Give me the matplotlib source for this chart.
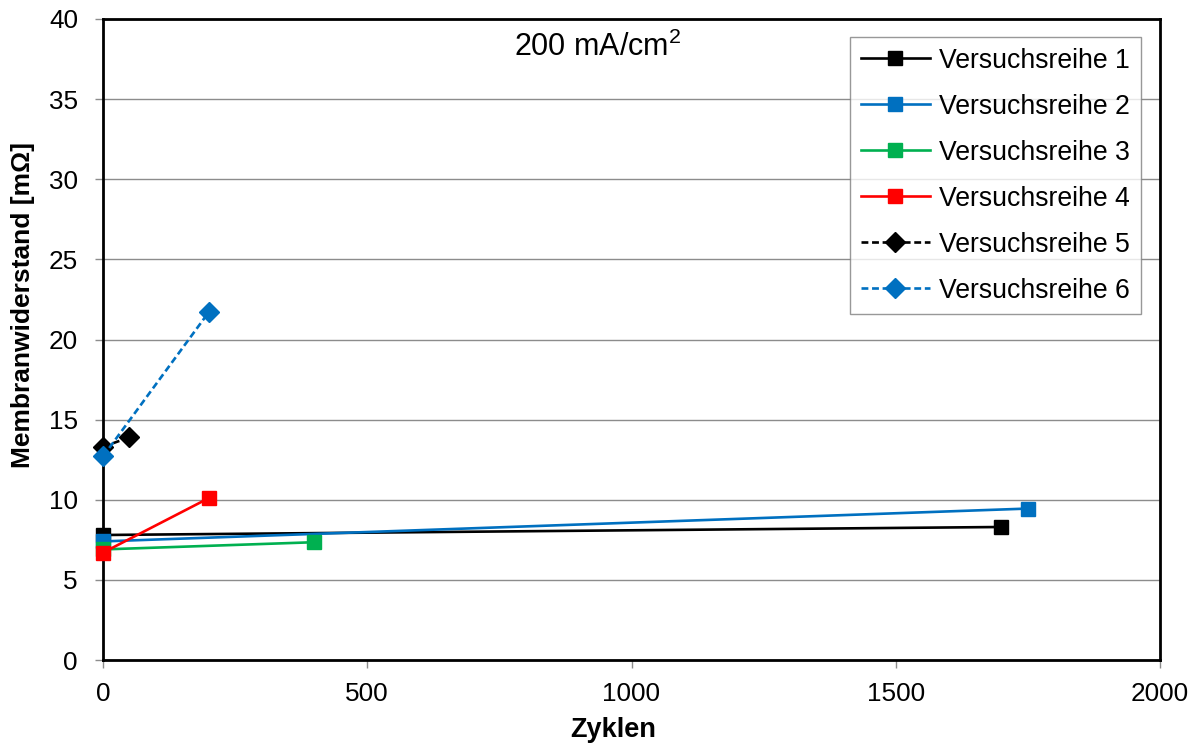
import matplotlib
matplotlib.use("Agg")
import matplotlib.pyplot as plt

plt.rcParams['font.family'] = ['Liberation Sans', 'DejaVu Sans']
plt.rcParams['mathtext.fontset'] = 'custom'
plt.rcParams['mathtext.rm'] = 'Liberation Sans'

# Data: cycles vs. membrane resistance for each test series
labels = ["Versuchsreihe 1", "Versuchsreihe 2", "Versuchsreihe 3",
          "Versuchsreihe 4", "Versuchsreihe 5", "Versuchsreihe 6"]
x1 = [0, 1700]
y1 = [7.8, 8.3]
x2 = [0, 1750]
y2 = [7.4, 9.45]
x3 = [0, 400]
y3 = [6.9, 7.35]
x4 = [0, 200]
y4 = [6.7, 10.1]
x5 = [0, 50]
y5 = [13.3, 13.9]
x6 = [0, 200]
y6 = [12.7, 21.7]

xs = [x1, x2, x3, x4, x5, x6]
ys = [y1, y2, y3, y4, y5, y6]
colors = ["#000000", "#0070C0", "#00B050", "#FF0000", "#000000", "#0070C0"]
markers = ["s", "s", "s", "s", "D", "D"]
dashed = (0, (2.6, 1.4))
styles = ["-", "-", "-", "-", dashed, dashed]

fig = plt.figure(figsize=(12.01, 7.51), dpi=100)
ax = fig.add_axes([103 / 1201, 1 - 660 / 751, (1160 - 103) / 1201, (660 - 19) / 751])

ax.set_axisbelow(True)
ax.yaxis.grid(True, color="#8c8c8c", linewidth=1.0)

for x, y, c, m, ls, lab in zip(xs, ys, colors, markers, styles, labels):
    ax.plot(x, y, color=c, linestyle=ls, linewidth=1.9, marker=m,
            markersize=10.3, markerfacecolor=c, markeredgecolor=c,
            label=lab, clip_on=False, zorder=3)

ax.set_xlim(0, 2000)
ax.set_ylim(0, 40)
ax.set_xticks(range(0, 2001, 500))
ax.set_yticks(range(0, 41, 5))

for s in ax.spines.values():
    s.set_linewidth(2.0)
    s.set_color("black")

ax.tick_params(axis="both", direction="out", length=6, width=1,
               color="#8c8c8c", labelsize=18.8)
ax.tick_params(axis="y", pad=12)
ax.tick_params(axis="x", pad=10)

ax.set_xlabel("Zyklen", fontsize=19.5, fontweight="bold")
ax.xaxis.set_label_coords((613 - 103) / 1057, -(730 - 660) / 641)
ax.set_ylabel("Membranwiderstand [mΩ]", fontsize=19, fontweight="bold")
ax.yaxis.set_label_coords(-(103 - 23) / 1057, (660 - 305) / 641)
ax.xaxis.label.set_va("center")
ax.yaxis.label.set_va("center")

ax.text(0.468, 0.956, "200 mA/cm$^{2}$", transform=ax.transAxes,
        ha="center", va="center", fontsize=22)

leg = ax.legend(loc="upper right", bbox_to_anchor=(1 - 19 / 1057, 1 - 18 / 641),
                borderaxespad=0, fontsize=19.2, frameon=True, fancybox=False,
                handlelength=2.6, handletextpad=0.35, labelspacing=0.75,
                borderpad=0.4)
leg.get_frame().set_edgecolor("#7f7f7f")
leg.get_frame().set_linewidth(1.0)

fig.savefig("out.png", dpi=100)
